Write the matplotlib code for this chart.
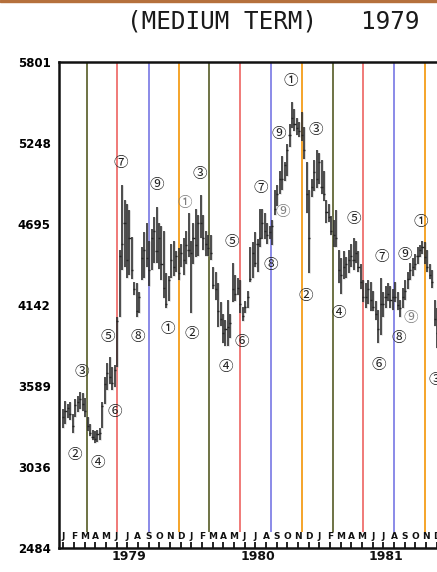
import matplotlib
matplotlib.use('Agg')
import matplotlib.pyplot as plt
from matplotlib.patches import Rectangle
from matplotlib.transforms import blended_transform_factory

# weekly bars starting first week of Jan 1979 (x unit: months since 1979-01-01)
highs = [3430, 3490, 3470, 3480, 3400, 3500, 3520, 3550, 3540, 3510,
         3380, 3330, 3290, 3280, 3290, 3300, 3480, 3650, 3750, 3790,
         3720, 3730, 4060, 4520, 4960, 4860, 4830, 4790, 4610, 4300,
         4290, 4230, 4540, 4640, 4700, 4580, 4660, 4740, 4810, 4700,
         4680, 4650, 4360, 4340, 4560, 4580, 4510, 4530, 4560, 4600,
         4650, 4770, 4580, 4700, 4800, 4760, 4890, 4760, 4650, 4620,
         4620, 4400, 4370, 4290, 4160, 4080, 4040, 4180, 4080, 4430,
         4350, 4330, 4310, 4130, 4170, 4240, 4540, 4570, 4640, 4590,
         4800, 4800, 4770, 4700, 4680, 4720, 4930, 4960, 5060, 5160,
         5120, 5240, 5380, 5530, 5480, 5420, 5390, 5460, 5360, 5120,
         4930, 5000, 5130, 5200, 5180, 5130, 5060, 4860, 4830, 4750,
         4720, 4790, 4520, 4460, 4510, 4470, 4520, 4560, 4600, 4580,
         4510, 4420, 4310, 4290, 4310, 4300, 4240, 4170, 4110, 4330,
         4230, 4270, 4290, 4270, 4250, 4300, 4230, 4180, 4260, 4310,
         4370, 4430, 4460, 4490, 4540, 4550, 4580, 4570, 4520, 4420,
         4380, 4180, 4120]
lows = [3300, 3330, 3370, 3360, 3270, 3380, 3410, 3430, 3420, 3380,
        3280, 3250, 3220, 3200, 3210, 3220, 3300, 3470, 3560, 3600,
        3560, 3580, 3720, 4060, 4380, 4400, 4330, 4350, 4320, 4210,
        4060, 4090, 4310, 4330, 4400, 4270, 4380, 4430, 4430, 4390,
        4310, 4190, 4120, 4170, 4330, 4340, 4370, 4310, 4400, 4350,
        4420, 4470, 4090, 4420, 4470, 4480, 4600, 4520, 4480, 4480,
        4450, 4250, 4180, 3990, 4000, 3880, 3860, 3860, 3920, 4160,
        4170, 4210, 4090, 4030, 4090, 4120, 4300, 4330, 4400, 4370,
        4540, 4590, 4590, 4560, 4590, 4550, 4760, 4820, 4900, 4930,
        4990, 5020, 5220, 5350, 5330, 5300, 5290, 5260, 5140, 4770,
        4360, 4880, 4920, 4940, 4970, 4900, 4850, 4700, 4710, 4620,
        4540, 4540, 4290, 4220, 4320, 4330, 4360, 4400, 4380, 4430,
        4370, 4250, 4160, 4120, 4150, 4100, 4100, 4040, 3880, 3940,
        4060, 4120, 4170, 4120, 4110, 4160, 4110, 4060, 4120, 4180,
        4250, 4310, 4340, 4380, 4420, 4470, 4490, 4420, 4370, 4320,
        4260, 4000, 3850]
closes = [3380, 3420, 3440, 3400, 3320, 3460, 3480, 3500, 3470, 3420,
          3320, 3270, 3240, 3230, 3260, 3270, 3450, 3600, 3680, 3650,
          3610, 3700, 4030, 4480, 4560, 4700, 4450, 4600, 4380, 4250,
          4100, 4200, 4460, 4520, 4460, 4380, 4600, 4650, 4510, 4600,
          4420, 4260, 4150, 4310, 4450, 4400, 4480, 4360, 4500, 4450,
          4550, 4520, 4500, 4600, 4550, 4700, 4700, 4600, 4560, 4530,
          4500, 4280, 4250, 4100, 4050, 3950, 3980, 3990, 4020, 4250,
          4220, 4260, 4150, 4070, 4130, 4200, 4320, 4500, 4430, 4560,
          4600, 4700, 4650, 4620, 4640, 4680, 4800, 4900, 5000, 5000,
          5100, 5200, 5300, 5420, 5380, 5350, 5330, 5300, 5200, 4900,
          4600, 4950, 5050, 5000, 5120, 4950, 4900, 4780, 4740, 4650,
          4620, 4600, 4380, 4350, 4400, 4420, 4450, 4480, 4450, 4500,
          4400, 4300, 4200, 4200, 4250, 4180, 4130, 4080, 3980, 4150,
          4150, 4200, 4220, 4180, 4200, 4200, 4140, 4120, 4200, 4240,
          4320, 4380, 4400, 4420, 4480, 4520, 4540, 4470, 4400, 4350,
          4300, 4050, 3950]

yticks = [2484, 3036, 3589, 4142, 4695, 5248, 5801]
month_letters = list('JFMAMJJASOND') * 3
years = ['1979', '1980', '1981']

# cycle lines (months since 1979-01-01)
cycle_x = [2.65, 5.46, 8.41, 11.25, 14.1, 16.96, 19.87, 22.75,
           25.65, 28.52, 31.42, 34.3]
cycle_colors = ['#6e7344', '#f07a78', '#8a8ae8', '#f5a42a']

# circled count labels: (text, month, price, dotted)
marks = [('②', 1.50, 3119, False), ('③', 2.16, 3685, False),
         ('④', 3.66, 3064, False), ('⑤', 4.59, 3924, False),
         ('⑥', 5.25, 3412, False), ('⑦', 5.81, 5112, False),
         ('⑧', 7.40, 3924, False), ('⑨', 9.18, 4962, False),
         ('①', 10.22, 3979, False), ('①', 11.81, 4839, True),
         ('②', 12.46, 3945, False), ('③', 13.21, 5037, False),
         ('④', 15.65, 3719, False), ('⑤', 16.21, 4573, False),
         ('⑥', 17.15, 3890, False), ('⑦', 18.93, 4941, False),
         ('⑧', 19.87, 4416, False), ('⑨', 20.62, 5310, False),
         ('⑨', 20.99, 4777, True), ('①', 21.74, 5671, False),
         ('③', 24.09, 5337, False), ('②', 23.15, 4204, False),
         ('④', 26.24, 4088, False), ('⑤', 27.65, 4730, False),
         ('⑦', 30.27, 4470, False), ('⑨', 32.43, 4484, False),
         ('⑥', 29.99, 3733, False), ('⑧', 31.87, 3917, False),
         ('⑨', 32.99, 4054, True), ('①', 33.93, 4709, False),
         ('③', 35.33, 3631, False)]

W, H = 437, 572
fig = plt.figure(figsize=(W / 100, H / 100), dpi=100)
fig.patches.append(Rectangle((0, 1 - 2 / H), 1, 2 / H, transform=fig.transFigure,
                             color='#b5703c', zorder=0))
ax = fig.add_axes([59 / W, (H - 548) / H, (W - 59) / W, 486 / H])

ax.set_xlim(0, 35.43)
ax.set_ylim(yticks[0], yticks[-1])

# cycle lines
top = yticks[-1]
for i, cx in enumerate(cycle_x):
    ax.vlines(cx, 2593, top, color=cycle_colors[i % 4], lw=1.4, zorder=1)

# price bars
step = 12 / 52
for i, (h, l, c) in enumerate(zip(highs, lows, closes)):
    x = 0.375 + i * step
    ax.vlines(x, l, h, color='#a0a0a0', lw=2.0, alpha=0.4, zorder=2)
    ax.vlines(x, l, h, color='#262626', lw=1.1, zorder=3)
    ax.hlines(c, x - 0.1, x + 0.1, color='#262626', lw=1.0, zorder=3)

for txt, mx, my, dotted in marks:
    ax.text(mx, my, txt, ha='center', va='center', fontsize=10.5,
            color='#808080' if dotted else '#222222',
            family=['Noto Sans CJK JP', 'DejaVu Sans'], zorder=4)

# month letters along the base
tr = blended_transform_factory(ax.transData, ax.transAxes)
for i, m in enumerate(month_letters):
    mx = i + 0.4
    if mx > 35.6:
        break
    ax.text(mx, 0.024, m, transform=tr, ha='center', va='center',
            fontsize=6.5, fontweight='bold', color='#111111')
    ax.vlines(mx, 0, 0.012, transform=tr, color='#111111', lw=1.3)

for j, yr in enumerate(years):
    ax.text(6.6 + 12 * j, -0.017, yr, transform=tr, ha='center', va='center',
            fontsize=9, fontweight='bold', color='#111111', clip_on=False)

ax.set_yticks(yticks)
ax.set_yticklabels([str(v) for v in yticks], fontsize=8.5, fontweight='bold')
ax.tick_params(axis='y', length=0, pad=6)
ax.set_xticks([])
for s in ['left', 'top', 'bottom']:
    ax.spines[s].set_linewidth(1.8)
    ax.spines[s].set_color('#111111')
ax.spines['right'].set_visible(False)

fig.text(127 / W, 1 - 21 / H, '(MEDIUM TERM)   1979', ha='left', va='center',
         fontsize=17.5, family='DejaVu Sans Mono', color='#1a1a1a')

fig.savefig('out.png', dpi=100)
